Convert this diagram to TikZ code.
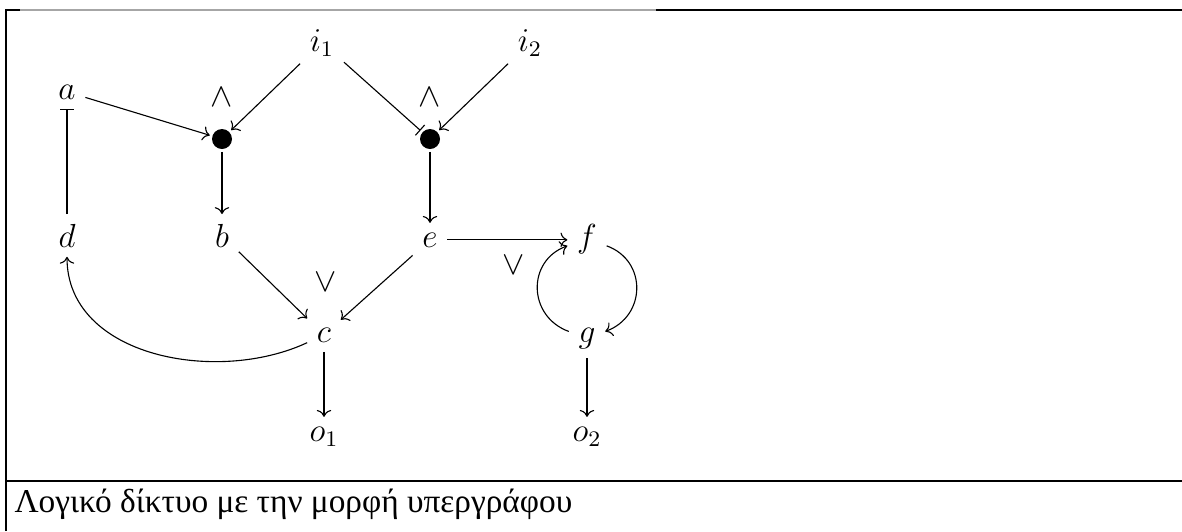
\documentclass[tikz,border=0pt]{standalone}
\usepackage{fontspec}
\newfontfamily\capfont{Liberation Serif}
\usetikzlibrary{arrows.meta}
\definecolor{RuleGray}{HTML}{A6A6A6}

\begin{document}
\begin{tikzpicture}[x=0.36pt,y=0.36pt,
    vertex/.style={font=\fontsize{11.5}{14}\selectfont,anchor=base},
    gate/.style={circle,fill=black,inner sep=0pt,minimum size=7.2pt,outer sep=1pt},
    op/.style={font=\fontsize{11.5}{14}\selectfont,inner sep=0pt},
    rule/.style={line width=0.75pt},
    inhib/.style={-{Bar[width=5pt]}}]
  \useasboundingbox (0,0) rectangle (1182,531);
  % table cell round the figure
  \draw[rule] (6,0) -- (6,521) -- (20,521);
  \draw[RuleGray] (20,521) -- (656,521);
  \draw[rule] (656,521) -- (1182,521);
  \draw[rule] (6,50) -- (1182,50);
  \node[anchor=base west,inner sep=0pt,font=\fontsize{12}{14}\capfont] (caption) at (14,19)
    {Λογικό δίκτυο με την μορφή υπεργράφου};
  % vertices
  \node[vertex] (i1) at (322,480) {$i_1$};
  \node[vertex] (i2) at (530,480) {$i_2$};
  \node[vertex] (a) at (67,432) {$a$};
  \node[vertex] (d) at (67,284) {$d$};
  \node[vertex] (b) at (222,284) {$b$};
  \node[vertex] (e) at (430,284) {$e$};
  \node[vertex] (f) at (587,284) {$f$};
  \node[vertex] (c) at (324,189) {$c$};
  \node[vertex] (g) at (587,189) {$g$};
  \node[vertex] (o1) at (324,90) {$o_1$};
  \node[vertex] (o2) at (587,90) {$o_2$};
  % gates
  \node[gate] (gb) at (222,392) {};
  \node[gate] (ge) at (430,392) {};
  \node[op] (andb) at (222,434) {$\wedge$};
  \node[op] (ande) at (430,434) {$\wedge$};
  \node[op] (orc) at (326,249) {$\vee$};
  \node[op] (orf) at (514,266) {$\vee$};
  % hyperedges
  \draw[->] (a) -- (gb);
  \draw[->] (i1) -- (gb);
  \draw[inhib] (i1) -- (ge);
  \draw[->] (i2) -- (ge);
  \draw[->] (gb) -- (b);
  \draw[->] (ge) -- (e);
  \draw[inhib] (d) -- (a);
  \draw[->] (b) -- (c);
  \draw[->] (e) -- (c);
  \draw[->] (e.east) -- (e.east -| f.west);
  \draw[->] (c) to[out=205,in=-90] (d);
  \draw[->] (f) to[out=-20,in=20,looseness=1.3] (g);
  \draw[->] (g) to[out=160,in=200,looseness=1.3] (f);
  \draw[->] (c) -- (o1);
  \draw[->] (g) -- (o2);
\end{tikzpicture}
\end{document}
